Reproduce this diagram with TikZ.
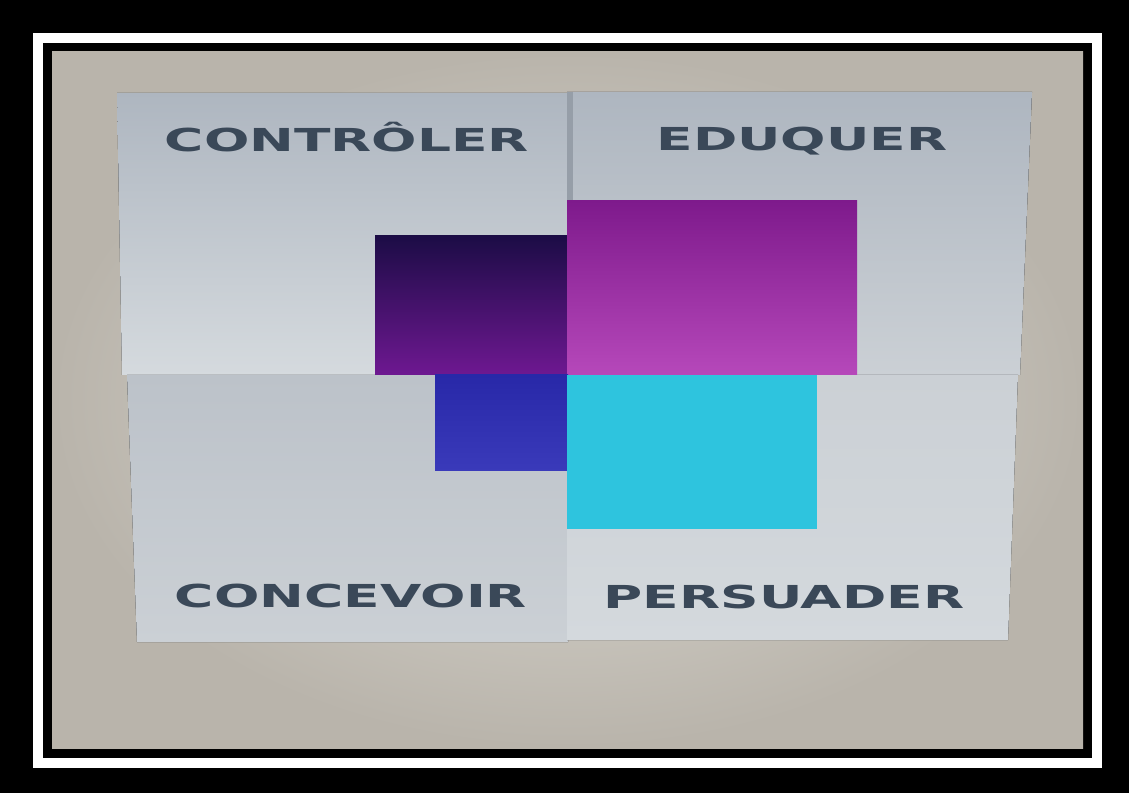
\documentclass[tikz,border=0pt]{standalone}
\usepackage{fontspec}
\usepackage{graphicx}
\usepackage{xcolor}
\setsansfont{DejaVu Sans}
\usetikzlibrary{positioning}

\definecolor{labelgray}{HTML}{3A4858}
\definecolor{panelA}{HTML}{AEB6C0}
\definecolor{panelB}{HTML}{D5DADE}
\definecolor{panelC}{HTML}{BCC2C9}
\definecolor{panelD}{HTML}{CBD0D5}
\definecolor{screenin}{HTML}{DEDCD5}
\definecolor{screenout}{HTML}{B9B4AB}
\newcommand{\widelabel}[1]{\scalebox{1.69}[1]{#1}}

\begin{document}
\begin{tikzpicture}[x=0.02cm, y=-0.02cm,
  panel/.style={draw=none},
  tile/.style={draw=none},
  quadtext/.style={font=\sffamily\bfseries\fontsize{18}{18}\selectfont,
                   text=labelgray, anchor=base, inner sep=0pt}
]
  \useasboundingbox (0,0) rectangle (1129,793);
  \fill[black] (0,0) rectangle (1129,793);
  % frame
  \fill[white] (33,33) rectangle (1102,768);
  \fill[black] (43,43) rectangle (1092,758);
  \shade[inner color=screenin, outer color=screenout]
    (52,52) rectangle (1083,748);

  % quadrants
  \fill[panel, top color=panelA, bottom color=panelB]
    (117,93) -- (568,93) -- (568,375) -- (122,375) -- cycle;
  \fill[panel, top color=panelA, bottom color=panelD]
    (567,92) -- (1032,92) -- (1020,375) -- (567,375) -- cycle;
  \fill[panel, top color=panelC, bottom color=panelD]
    (127,375) -- (568,375) -- (568,642) -- (137,642) -- cycle;
  \fill[panel, top color=panelD, bottom color=panelB!90!panelD]
    (567,375) -- (1018,375) -- (1008,640) -- (567,640) -- cycle;
  \draw[line width=3pt, color={rgb,255:red,150;green,158;blue,168}] (570,92) -- (570,236);

  % coloured tiles
  \fill[tile, top color={rgb,255:red,28;green,12;blue,70}, bottom color={rgb,255:red,110;green,24;blue,145}]
    (375,236) rectangle (568,375);
  \fill[tile, top color={rgb,255:red,126;green,26;blue,140}, bottom color={rgb,255:red,182;green,72;blue,186}]
    (567,201) rectangle (857,375);
  \fill[tile, top color={rgb,255:red,40;green,40;blue,168}, bottom color={rgb,255:red,58;green,58;blue,186}]
    (435,375) rectangle (568,471);
  \fill[tile, fill={rgb,255:red,46;green,196;blue,222}]
    (567,375) rectangle (817,529);

  % labels
  \node[quadtext] (controler) at (347,152) {\widelabel{CONTRÔLER}};
  \node[quadtext] (eduquer) at (802,151) {\widelabel{EDUQUER}};
  \node[quadtext] (concevoir) at (351,607) {\widelabel{CONCEVOIR}};
  \node[quadtext] (persuader) at (784,608) {\widelabel{PERSUADER}};
\end{tikzpicture}
\end{document}
